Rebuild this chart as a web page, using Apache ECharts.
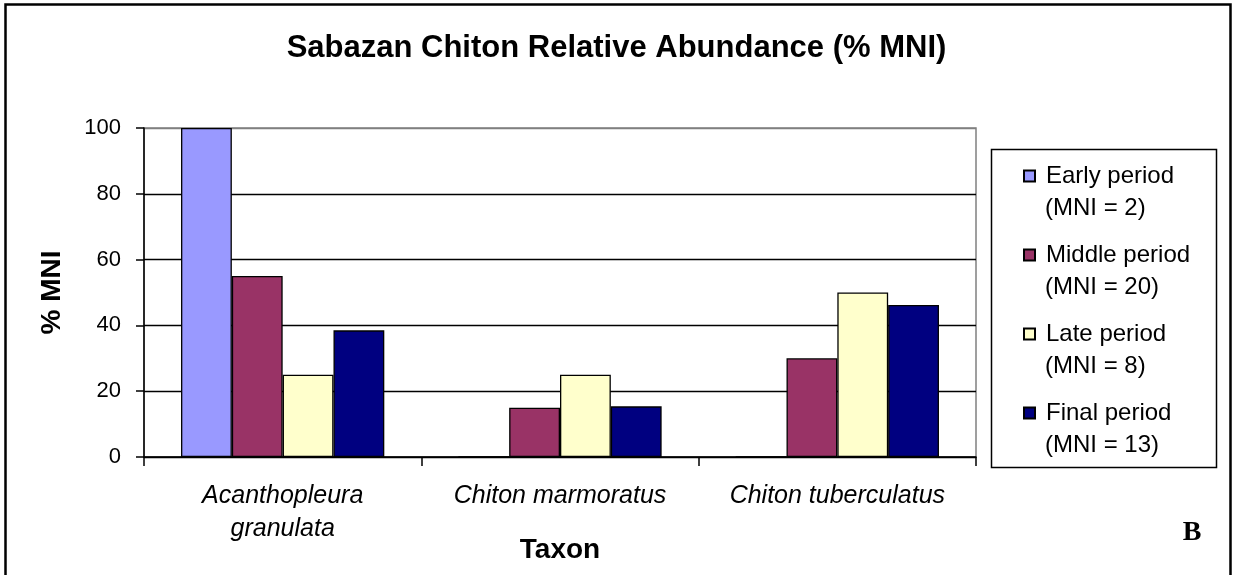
<!DOCTYPE html>
<html>
<head>
<meta charset="utf-8">
<script src="https://cdn.jsdelivr.net/npm/echarts@6/dist/echarts.min.js"></script>
<style>
  html, body { margin: 0; padding: 0; background: #fff; }
  #chart { width: 1233px; height: 575px; }
</style>
</head>
<body>
<div id="chart"></div>
<script>
// ---- data ----
const categories = ['Acanthopleura\ngranulata', 'Chiton marmoratus', 'Chiton tuberculatus'];
const seriesNames = ['Early period', 'Middle period', 'Late period', 'Final period'];
const mniLabels = ['(MNI = 2)', '(MNI = 20)', '(MNI = 8)', '(MNI = 13)'];
const earlyValues = [100, 0, 0];
const middleValues = [55, 15, 30];
const lateValues = [25, 25, 50];
const finalValues = [38.5, 15.4, 46.2];
const yTicks = [0, 20, 40, 60, 80, 100];
const colors = ['#9999FF', '#993366', '#FFFFCC', '#000080'];

const FONT = '"Liberation Sans", Arial, sans-serif';
const seriesValues = [earlyValues, middleValues, lateValues, finalValues];

const chart = echarts.init(document.getElementById('chart'), null, { renderer: 'canvas' });

const legendCommon = {
  orient: 'vertical',
  left: 1023,
  padding: 0,
  itemGap: 47,
  itemWidth: 11,
  itemHeight: 11,
  icon: 'rect',
  data: seriesNames,
  selectedMode: false,
  textStyle: {
    fontFamily: FONT, fontSize: 24, color: '#000',
    lineHeight: 32, padding: [0, 0, 0, 6]
  }
};

const option = {
  animation: false,
  backgroundColor: '#ffffff',
  title: {
    text: 'Sabazan Chiton Relative Abundance (% MNI)',
    left: 'center',
    top: 33,
    padding: 0,
    textStyle: { fontFamily: FONT, fontSize: 31, fontWeight: 'bold', color: '#000' }
  },
  grid: {
    left: 144, top: 128, width: 832, height: 329,
    containLabel: false,
    outerBoundsMode: 'none',
    show: true,
    borderColor: '#808080',
    borderWidth: 1.5,
    backgroundColor: 'transparent'
  },
  legend: [
    Object.assign({}, legendCommon, {
      top: 160
    }),
    Object.assign({}, legendCommon, {
      top: 192,
      itemStyle: { color: 'transparent', borderColor: 'transparent', borderWidth: 0, opacity: 0 },
      formatter: function (name) {
        return mniLabels[seriesNames.indexOf(name)];
      }
    })
  ],
  xAxis: {
    type: 'category',
    data: categories,
    name: 'Taxon',
    nameLocation: 'middle',
    nameGap: 79,
    nameMoveOverlap: false,
    nameTextStyle: { fontFamily: FONT, fontSize: 28, fontWeight: 'bold', color: '#000' },
    axisLine: { show: true, lineStyle: { color: '#000', width: 1.5 } },
    axisTick: { show: true, alignWithLabel: false, length: 9, lineStyle: { color: '#000', width: 1.5 } },
    axisLabel: {
      fontFamily: FONT, fontSize: 25, fontStyle: 'italic', color: '#000',
      lineHeight: 33, margin: 23, interval: 0
    },
    splitLine: { show: false }
  },
  yAxis: {
    type: 'value',
    min: 0, max: 100, interval: 20,
    name: '% MNI',
    nameLocation: 'middle',
    nameRotate: 90,
    nameGap: 78,
    nameMoveOverlap: false,
    nameTextStyle: { fontFamily: FONT, fontSize: 28, fontWeight: 'bold', color: '#000' },
    axisLine: { show: true, lineStyle: { color: '#000', width: 1.5 } },
    axisTick: { show: true, inside: false, length: 8, lineStyle: { color: '#000', width: 1.5 } },
    axisLabel: {
      fontFamily: FONT, fontSize: 22, color: '#000', margin: 23,
      formatter: function (v) { return yTicks.indexOf(v) >= 0 ? String(v) : ''; }
    },
    splitLine: {
      show: true,
      lineStyle: { color: ['#000', '#000', '#000', '#000', '#000', '#808080'], width: 1.3 }
    }
  },
  series: seriesNames.map(function (name, i) {
    return {
      name: name,
      type: 'bar',
      data: seriesValues[i],
      barGap: 0,
      barCategoryGap: '26.7%',
      itemStyle: { color: colors[i], borderColor: '#000', borderWidth: 1.3 },
      emphasis: { disabled: true }
    };
  }),
  graphic: [
    {
      type: 'rect',
      shape: { x: 5.5, y: 4.5, width: 1225, height: 620 },
      style: { fill: 'none', stroke: '#000', lineWidth: 2.5 },
      silent: true, z: 100
    },
    {
      type: 'rect',
      shape: { x: 991.5, y: 149.5, width: 225, height: 318 },
      style: { fill: 'none', stroke: '#000', lineWidth: 1.5 },
      silent: true, z: 100
    },
    {
      type: 'text',
      x: 1192, y: 533,
      style: {
        text: 'B', fontFamily: '"Liberation Serif", "Times New Roman", serif',
        fontSize: 28, fontWeight: 'bold', fill: '#000',
        align: 'center', verticalAlign: 'middle'
      },
      silent: true, z: 100
    }
  ]
};

chart.setOption(option);
</script>
</body>
</html>
